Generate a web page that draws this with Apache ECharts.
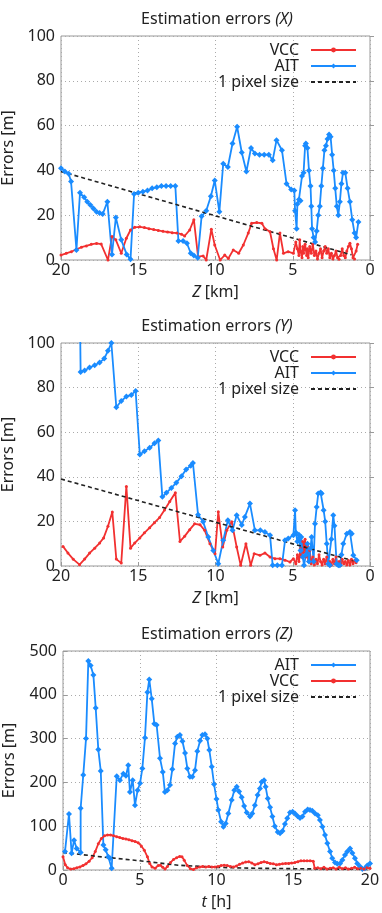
<!DOCTYPE html>
<html><head><meta charset="utf-8">
<script src="https://cdn.jsdelivr.net/npm/echarts@6/dist/echarts.min.js"></script>
<style>html,body{margin:0;padding:0;background:#fff}#c{width:382px;height:913px}</style>
</head><body><div id="c"></div>
<script>
// ---- Data: [Z km, error m] ----
const vccX = [[20,2.2],[19.66,3],[19.33,3.7],[19.0,4.8],[18.68,5.7],[18.36,6.3],[18.04,7],[17.7,7.4],[17.4,7.1],[16.96,0],[16.7,10.5],[16.45,9],[16.1,3],[15.77,9.7],[15.5,13.4],[15.23,14.6],[14.9,14.8],[14.6,14.5],[14.3,14],[14.0,13.6],[13.7,13.2],[13.4,12.8],[13.1,12.5],[12.8,12.2],[12.5,12],[12.2,11.5],[12.0,10.7],[11.67,13.4],[11.4,18],[11.13,1.5],[10.8,1.8],[10.6,0],[10.27,13.7],[10.05,6.7],[9.7,0],[9.4,2.2],[9.17,0.7],[8.85,4.5],[8.5,3],[8.2,6.7],[7.88,12],[7.66,16.4],[7.33,16.7],[7.0,16.4],[6.8,14],[6.47,12.6],[6.25,5],[6.04,0],[5.83,12],[5.6,3],[5.3,3.7],[4.96,3],[4.8,8],[4.7,5],[4.6,2],[4.55,9],[4.5,4],[4.4,1],[4.35,6],[4.3,3],[4.2,7],[4.1,2],[4.05,5],[4.0,1],[3.9,6],[3.8,3],[3.7,7],[3.6,2],[3.5,4],[3.4,0.5],[3.3,3],[3.2,5],[3.1,1],[3.0,4],[2.9,6],[2.8,3],[2.7,5],[2.6,1],[2.5,3],[2.4,0.5],[2.3,2],[2.2,4],[2.1,1],[2.0,0.3],[1.9,2],[1.8,5],[1.7,2],[1.6,1],[1.5,4],[1.4,6],[1.3,7.5],[1.2,5],[1.1,1],[1.0,0.5],[0.9,4],[0.8,7]];
const aitX = [[20,41],[19.75,39.5],[19.5,38.5],[19.35,35],[19.0,4.5],[18.77,30],[18.5,28],[18.3,26],[18.1,24.5],[17.9,23],[17.7,21.5],[17.5,21],[17.3,20.5],[17.0,26],[16.7,2.5],[16.45,19],[16.1,9],[15.75,2.5],[15.5,0.3],[15.27,29.5],[15.0,30],[14.7,30.5],[14.4,31],[14.1,32],[13.8,32.5],[13.5,33],[13.2,33],[12.9,33],[12.6,33],[12.4,8.5],[12.1,8.5],[11.85,7.5],[11.6,3],[11.4,2],[11.15,1],[10.9,19.5],[10.6,22],[10.3,28.5],[10.05,35.5],[9.75,21.5],[9.5,43],[9.2,41.5],[8.9,52],[8.6,59.5],[8.3,48],[8.0,39.5],[7.7,50],[7.45,47.5],[7.15,47],[6.85,47],[6.55,47],[6.3,44.5],[6.05,53.5],[5.7,49],[5.4,34],[5.1,31.5],[4.9,31],[4.85,22],[4.75,14],[4.7,25],[4.6,27],[4.5,26.5],[4.4,37.5],[4.3,39],[4.2,51],[4.15,52],[4.05,50],[3.95,40],[3.85,33],[3.8,24],[3.75,14],[3.65,10],[3.55,8],[3.45,13],[3.35,20],[3.25,24],[3.15,33],[3.05,41],[2.95,49],[2.85,51],[2.75,54],[2.65,56],[2.55,55],[2.45,47],[2.35,40],[2.25,32],[2.15,24],[2.05,20],[1.95,26],[1.85,34],[1.75,39],[1.6,39],[1.45,32],[1.3,26],[1.15,18],[1.0,12],[0.9,10],[0.75,17]];
const pixX = [[20,39.5],[1.2,2.3]];

const vccY = [[19.87,8.8],[19.55,5.8],[19.2,3],[18.8,0.6],[18.47,3.1],[18.15,5.8],[17.82,8],[17.5,10.3],[17.24,12.6],[16.96,17.8],[16.68,24.2],[16.42,3.1],[16.1,1.3],[15.77,35.7],[15.5,8],[15.23,10.3],[14.9,12.6],[14.6,14.9],[14.26,17.2],[13.95,19.4],[13.62,21.7],[13.3,25.1],[12.96,28.9],[12.6,32.8],[12.3,11],[12.0,13.3],[11.67,16.3],[11.35,18.9],[11.0,18.5],[10.7,16],[10.36,10],[10.03,5.5],[9.82,24.3],[9.53,8.5],[9.27,16],[8.95,19.8],[8.63,8.5],[8.37,0.3],[8.03,10],[7.72,0.3],[7.5,5.5],[7.12,4.8],[6.8,5.8],[6.47,4],[6.15,3.3],[5.83,3.3],[5.5,2.6],[5.18,1.8],[4.96,3.3],[4.8,1],[4.7,5],[4.6,2],[4.5,8],[4.45,4],[4.35,11],[4.3,6],[4.2,12],[4.15,4],[4.05,9],[4.0,2],[3.9,7],[3.8,1],[3.7,4],[3.6,0.5],[3.5,3],[3.4,1],[3.3,5],[3.2,2],[3.1,0.5],[3.0,3],[2.9,1],[2.8,4],[2.7,0.5],[2.6,2],[2.5,0.3],[2.4,3],[2.3,1],[2.2,4],[2.1,0.5],[2.0,2],[1.9,0.3],[1.8,3],[1.7,1],[1.6,2],[1.5,0.5],[1.4,2.5],[1.3,0.5],[1.2,3],[1.1,1],[1.0,2.5],[0.9,1.5]];
const aitY = [[18.85,160],[18.73,87],[18.47,87.7],[18.15,89],[17.82,90],[17.5,91.2],[17.2,93],[16.96,96.5],[16.74,100],[16.42,71.2],[16.1,74],[15.77,76],[15.45,76.7],[15.17,78.5],[14.9,50],[14.6,51.5],[14.26,53],[13.95,55],[13.7,56.3],[13.44,31],[13.18,32.8],[12.86,35],[12.54,37.3],[12.2,40.3],[11.9,43.3],[11.6,45],[11.46,46.2],[11.13,23],[10.8,19.8],[10.47,13],[10.14,7],[9.82,1],[9.5,11.5],[9.2,20.5],[8.9,16],[8.63,22.8],[8.3,18.4],[8.1,22],[7.77,28],[7.45,16],[7.1,16],[6.8,15.3],[6.47,13.8],[6.3,0.3],[6.0,0.3],[5.7,0.3],[5.5,11.5],[5.29,12.3],[4.96,13.8],[4.85,25],[4.8,15],[4.7,11],[4.6,14],[4.5,7],[4.45,13],[4.35,4],[4.27,0.3],[4.15,5],[4.05,10],[3.95,2],[3.85,8],[3.78,13],[3.65,2],[3.56,19],[3.45,26.5],[3.35,32.5],[3.2,33],[3.13,32.5],[3.0,25],[2.9,20],[2.8,10],[2.7,1],[2.6,0.3],[2.5,12],[2.38,22.8],[2.3,18],[2.16,1],[2.05,0.3],[1.95,0.3],[1.85,5],[1.73,10],[1.5,14.5],[1.3,15.3],[1.18,14.5],[1.08,4.8],[0.86,2.6]];
const pixY = [[20,39],[1.0,2.2]];

// ---- Data: [t h, error m] ----
const aitZ = [[0.13,42],[0.39,128],[0.56,38],[0.72,68],[0.89,49],[1.15,40],[1.15,141],[1.32,217],[1.5,300],[1.65,477],[1.8,467],[1.98,445],[2.13,370],[2.3,275],[2.46,226],[2.63,57],[2.78,46],[2.95,30],[3.06,27],[3.17,4],[3.5,214],[3.71,205],[3.93,220],[4.1,215],[4.25,239],[4.36,178],[4.54,205],[4.69,148],[4.86,182],[5.02,198],[5.17,232],[5.34,302],[5.5,406],[5.62,435],[5.78,391],[5.95,334],[6.1,331],[6.32,255],[6.5,224],[6.64,178],[6.8,182],[6.97,194],[7.12,230],[7.3,289],[7.45,304],[7.62,308],[7.78,294],[7.95,267],[8.1,232],[8.27,213],[8.43,213],[8.6,228],[8.75,271],[8.93,295],[9.08,308],[9.25,310],[9.4,300],[9.53,274],[9.69,236],[9.84,196],[10.0,162],[10.12,137],[10.3,110],[10.45,99],[10.6,106],[10.77,129],[10.99,160],[11.16,182],[11.32,190],[11.47,179],[11.64,166],[11.8,146],[11.97,131],[12.18,122],[12.33,129],[12.5,148],[12.68,171],[12.83,186],[12.94,201],[13.1,205],[13.2,190],[13.34,163],[13.49,143],[13.64,122],[13.8,100],[13.99,87],[14.14,84],[14.3,89],[14.46,105],[14.61,118],[14.79,131],[14.96,133],[15.11,129],[15.29,123],[15.44,119],[15.6,122],[15.77,133],[15.94,138],[16.09,137],[16.24,135],[16.42,129],[16.6,125],[16.74,114],[16.9,99],[17.07,80],[17.22,61],[17.4,42],[17.54,27],[17.72,17],[17.87,14],[18.05,15],[18.2,23],[18.37,34],[18.52,42],[18.7,49],[18.85,39],[19.02,27],[19.17,15],[19.35,8],[19.5,2],[19.67,4],[19.82,10],[20.0,15]];
const vccZ = [[0,30],[0.15,12],[0.3,5],[0.5,2],[0.7,3],[0.9,5],[1.1,7],[1.3,10],[1.5,14],[1.7,20],[1.9,28],[2.1,42],[2.3,60],[2.5,72],[2.7,78],[2.9,80],[3.1,80],[3.3,78],[3.5,76],[3.7,74],[3.9,72],[4.1,71],[4.3,69],[4.5,67],[4.7,65],[4.9,62],[5.1,55],[5.3,45],[5.5,30],[5.65,15],[5.8,7],[6.0,4],[6.2,10],[6.35,11],[6.5,6],[6.65,2],[6.8,8],[7.0,17],[7.2,24],[7.4,28],[7.6,31],[7.75,30],[7.9,22],[8.1,10],[8.3,3],[8.5,1],[8.7,5],[8.9,7],[9.1,8],[9.3,7],[9.5,8],[9.7,7],[9.9,7],[10.1,8],[10.3,10],[10.5,11],[10.7,10],[10.9,8],[11.1,7],[11.3,9],[11.5,13],[11.7,16],[11.9,18],[12.1,19],[12.3,16],[12.5,12],[12.7,14],[12.9,17],[13.1,19],[13.3,17],[13.5,15],[13.7,14],[13.9,12],[14.1,13],[14.3,14],[14.5,15],[14.7,15],[14.9,16],[15.1,17],[15.3,19],[15.5,21],[15.7,21],[15.9,21],[16.1,21],[16.3,20],[16.4,4],[16.6,5],[16.8,3],[17.0,6],[17.2,2],[17.4,4],[17.6,5],[17.8,2],[18.0,6],[18.2,3],[18.4,5],[18.6,2],[18.8,4],[19.0,6],[19.2,3],[19.4,4],[19.6,2],[19.8,5],[20.0,4]];
const pixZ = [[0,40],[2.5,30],[5,21],[7.5,11],[10,6],[12.5,4],[15,3],[17.5,2],[20,1.5]];

const titles = ['X', 'Y', 'Z'];
const xNames = ['Z', 'Z', 't'];
const xUnits = ['[km]', '[km]', '[h]'];

// ---- Styles ----
const FONT = "'Noto Sans', sans-serif";
const TXT = '#222';
const RED = '#f23030';
const BLUE = '#1a8cff';
const grids = [
  {left: 61, top: 36, width: 309, height: 224},
  {left: 61, top: 343, width: 309, height: 223},
  {left: 63, top: 651, width: 307, height: 219}
];
const titleTops = [6, 313, 621];

const richT = {
  n: {fontSize: 16, color: TXT, fontFamily: FONT, fontWeight: 'normal'},
  i: {fontSize: 16, color: TXT, fontFamily: FONT, fontStyle: 'italic', fontWeight: 'normal'}
};

function xAxis(i) {
  return {
    type: 'value', gridIndex: i, min: 0, max: 20, interval: 5, inverse: i < 2,
    name: '{i|' + xNames[i] + '}{n| ' + xUnits[i] + '}',
    nameLocation: 'middle', nameGap: 24,
    nameTextStyle: {rich: richT, verticalAlign: 'top'},
    axisLine: {show: false},
    axisTick: {show: true, inside: true, length: 4, lineStyle: {color: '#999'}},
    axisLabel: {margin: 2, fontSize: 16, color: TXT, fontFamily: FONT},
    splitLine: {show: true, lineStyle: {type: [1, 3], color: '#aaa', width: 1}}
  };
}
function yAxis(i) {
  const big = i === 2;
  return {
    type: 'value', gridIndex: i, min: 0, max: big ? 500 : 100, interval: big ? 100 : 20,
    name: 'Errors [m]', nameLocation: 'middle', nameGap: big ? 46 : 45, nameRotate: 90,
    nameTextStyle: {fontSize: 16, color: TXT, fontFamily: FONT},
    axisLine: {show: false},
    axisTick: {show: true, inside: true, length: 4, lineStyle: {color: '#999'}},
    axisLabel: {margin: 6, fontSize: 16, color: TXT, fontFamily: FONT},
    splitLine: {show: true, lineStyle: {type: [1, 3], color: '#aaa', width: 1}}
  };
}
function lineSeries(name, data, i, color, symbol, size) {
  return {
    name: name, type: 'line', xAxisIndex: i, yAxisIndex: i, data: data,
    symbol: symbol, symbolSize: size, showSymbol: true, clip: true,
    lineStyle: {color: color, width: 1.8}, itemStyle: {color: color},
    emphasis: {disabled: true}
  };
}
function pixSeries(data, i) {
  return {
    name: '1 pixel size', type: 'line', xAxisIndex: i, yAxisIndex: i, data: data,
    symbol: 'none', clip: true,
    lineStyle: {color: '#222', width: 1.6, type: [4, 3]}, itemStyle: {color: '#222'},
    emphasis: {disabled: true}
  };
}
function legend(i, order) {
  return {
    data: order.map(n => n === '1 pixel size' ? {name: n, itemStyle: {opacity: 0}} : n),
    orient: 'vertical', align: 'right', right: 25,
    top: grids[i].top + 6, itemWidth: 45, itemHeight: 6, itemGap: 0, padding: 0,
    selectedMode: false,
    textStyle: {fontSize: 16, color: TXT, fontFamily: FONT, padding: [0, 7, 0, 0]}
  };
}

const option = {
  animation: false,
  backgroundColor: '#fff',
  title: titles.map((t, i) => ({
    text: '{n|Estimation errors }{i|(' + t + ')}',
    left: 212, top: titleTops[i], textAlign: 'center',
    textStyle: {rich: richT, fontWeight: 'normal'}
  })),
  grid: grids.map(g => Object.assign({show: true, borderColor: '#999', borderWidth: 1, backgroundColor: 'transparent', containLabel: false, outerBoundsMode: 'none'}, g)),
  xAxis: [0, 1, 2].map(xAxis),
  yAxis: [0, 1, 2].map(yAxis),
  legend: [
    legend(0, ['VCC', 'AIT', '1 pixel size']),
    legend(1, ['VCC', 'AIT', '1 pixel size']),
    legend(2, ['AIT', 'VCC', '1 pixel size'])
  ],
  series: [
    lineSeries('VCC', vccX, 0, RED, 'circle', 3),
    lineSeries('AIT', aitX, 0, BLUE, 'diamond', 6),
    pixSeries(pixX, 0),
    lineSeries('VCC', vccY, 1, RED, 'circle', 3),
    lineSeries('AIT', aitY, 1, BLUE, 'diamond', 6),
    pixSeries(pixY, 1),
    lineSeries('AIT', aitZ, 2, BLUE, 'diamond', 6),
    lineSeries('VCC', vccZ, 2, RED, 'circle', 3),
    pixSeries(pixZ, 2)
  ]
};
const chart = echarts.init(document.getElementById('c'), null, {renderer: 'canvas'});
chart.setOption(option);
</script>
</body></html>
